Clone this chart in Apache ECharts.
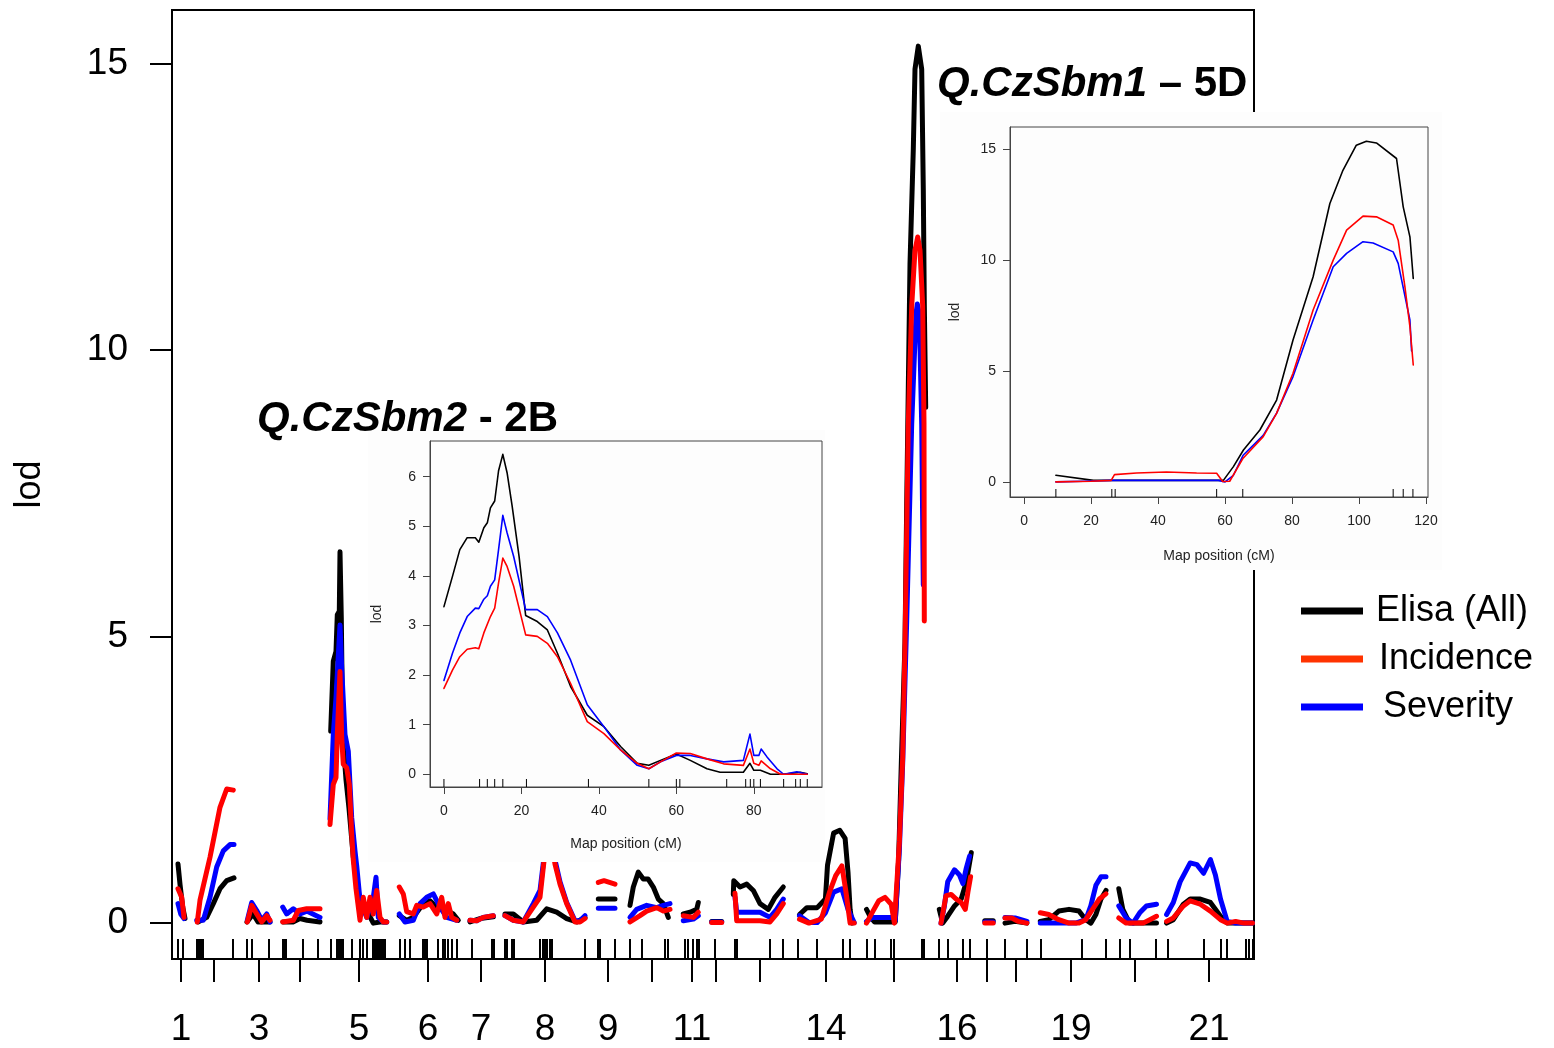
<!DOCTYPE html>
<html>
<head>
<meta charset="utf-8">
<title>lod scan</title>
<script src="https://cdn.jsdelivr.net/npm/echarts@6/dist/echarts.min.js"></script>
<style>
  html, body { margin: 0; padding: 0; background: #fff; }
  #chart { width: 1554px; height: 1048px; }
</style>
</head>
<body>
<div id="chart"></div>
<script>
// ---- main genome scan: x = cumulative map position, y = lod ----
var chromPos = [9, 42, 87, 128, 187, 256, 309, 373, 436, 480, 520, 544, 588, 654, 722, 785, 815, 844, 899, 963, 1037];
var chromNames = ['1','2','3','4','5','6','7','8','9','10','11','12','13','14','15','16','17','18','19','20','21'];
var chromShown = ['1','3','5','6','7','8','9','11','14','16','19','21'];
var lodTicks = [0, 5, 10, 15];

var markers = [6, 11, 25, 26, 28, 30, 31, 61, 75, 80, 97, 111, 113, 114, 131, 146, 159, 165, 166, 168, 170, 171,
  180, 188, 191, 195, 201, 203, 205, 206, 208, 210, 211, 213, 228, 233, 238, 251, 253, 255, 266, 271, 273, 276,
  280, 285, 300, 320, 322, 333, 335, 340, 342, 368, 371, 373, 375, 378, 380, 413, 426, 428, 443, 458, 470, 493,
  496, 513, 516, 521, 525, 527, 543, 563, 565, 598, 611, 626, 645, 671, 678, 695, 703, 719, 722, 750, 752, 767,
  776, 791, 798, 815, 833, 855, 869, 910, 934, 948, 958, 984, 996, 1032, 1049, 1055, 1074, 1077, 1081];

// one sub-array per chromosome
var elisaMain = [
  [[6,1.03],[8,0.68],[10.7,0.28],[13,0.08]],
  [[26,0.02],[34.7,0.1],[41.3,0.34],[48,0.6],[54.7,0.74],[62,0.79]],
  [[75,0.02],[81,0.16],[86,0.02],[98,0.02]],
  [[111,0.02],[121,0.02],[128,0.08],[135,0.05],[148,0.02]],
  [[158.7,3.35],[161.3,4.57],[164,4.74],[165.3,5.38],[167.3,5.44],[168,6.48],[169.3,5.32],[170.7,3.29],[174,2.5],[177,2.0],[181.3,1.15],[188,0.34],[194.7,0.22],[201.3,0.0],[208,0.02],[214.7,0.02]],
  [[227.3,0.13],[234.7,0.05],[241.3,0.1],[251.3,0.34],[258,0.39],[264.7,0.28],[274.7,0.22],[281.3,0.16],[286.3,0.05]],
  [[298,0.02],[308,0.08],[321.3,0.11]],
  [[333,0.16],[341.3,0.16],[351.3,0.02],[364.7,0.05],[374.7,0.25],[384.7,0.19],[394.7,0.08],[404.7,0.02],[413,0.1]],
  [[426.3,0.42],[443,0.42]],
  [[458,0.31],[461.3,0.63],[466.3,0.89],[471.3,0.77],[476,0.77],[481.3,0.63],[486.3,0.42],[491.3,0.34],[496.3,0.1]],
  [[511.3,0.16],[518,0.19],[524.7,0.24],[526.3,0.36]],
  [[539.7,0.03],[549.7,0.03]],
  [[561.3,0.5],[561.8,0.74],[568,0.63],[574.7,0.68],[581.3,0.57],[588,0.34],[596.3,0.24],[603,0.45],[611.3,0.63]],
  [[627.5,0.15],[634.9,0.27],[645.2,0.27],[653.4,0.42],[655.5,1.01],[661.6,1.57],[667.8,1.62],[673.1,1.48],[676,0.89],[678.1,0.24],[680.1,0.0]],
  [[694.5,0.24],[698.6,0.1],[702.7,0.02],[723.3,0.02],[726.6,1.1],[729.5,2.9],[733,4.9],[734.7,7.3],[738,11.5],[741.3,13.5],[743,14.9],[746.3,15.3],[749.7,14.9],[751.3,12.8],[752.3,10.8],[753.7,9.0]],
  [[767.3,0.24],[770.7,0.0],[775.7,0.12],[782.5,0.3],[789.2,0.42],[794.3,0.72],[799.3,1.23]],
  [[812.8,0.04],[821.2,0.04]],
  [[833,0.0],[843.1,0.03],[854.9,0.0]],
  [[868.3,0.03],[876.8,0.06],[886.8,0.21],[897,0.24],[907,0.21],[913.8,0.06],[918.8,0.0],[923.9,0.15],[929,0.42],[934,0.57]],
  [[946.8,0.6],[950.8,0.24],[957.6,0.0],[971,0.0],[984.5,0.0]],
  [[994.6,0.0],[1001.3,0.06],[1011.4,0.33],[1018.2,0.42],[1028.3,0.42],[1038.4,0.36],[1048.5,0.12],[1055.2,0.0],[1080.5,0.0]]
];

var severityMain = [
  [[6,0.34],[8.7,0.16],[12,0.08]],
  [[24.7,0.05],[31.3,0.05],[38,0.45],[44.7,0.98],[51.3,1.26],[58,1.37],[62,1.37]],
  [[75.3,0.05],[79.7,0.36],[84.7,0.22],[89.7,0.05],[94.7,0.16],[98,0.02]],
  [[110.7,0.28],[114.7,0.16],[121.3,0.25],[128,0.16],[134.7,0.21],[148,0.1]],
  [[158,1.82],[161.3,3.29],[164,3.93],[168,5.2],[169.7,4.45],[173,3.29],[176.3,3.0],[179.7,1.84],[183,1.26],[184.7,1.0],[188,0.4],[194.7,0.1],[201.3,0.45],[204,0.8],[206.3,0.1],[211.3,0.02],[214.7,0.02]],
  [[227.3,0.16],[233,0.02],[241.3,0.05],[248,0.34],[254.7,0.45],[261.3,0.51],[268,0.28],[274.7,0.1],[284.7,0.05]],
  [[298,0.05],[304.7,0.04],[311.3,0.1],[321.3,0.13]],
  [[333,0.13],[341.3,0.05],[351.3,0.02],[361.3,0.34],[368,0.57],[371.3,1.05],[374.7,1.6],[378,1.7],[383,1.1],[388,0.72],[394.7,0.36],[403,0.04],[408,0.04],[413,0.13]],
  [[426.3,0.26],[443,0.26]],
  [[458,0.1],[464.7,0.24],[474.7,0.31],[484.7,0.27],[491.3,0.31],[498,0.34]],
  [[511.3,0.04],[521.3,0.07],[526.3,0.13]],
  [[539.7,0.02],[549.7,0.02]],
  [[563,0.45],[564.7,0.19],[588,0.19],[598,0.1],[604.7,0.24],[611.3,0.42]],
  [[627.5,0.13],[637,0.01],[645.2,0.01],[653.4,0.18],[661.6,0.54],[669.9,0.6],[676,0.24],[682.2,0.01]],
  [[694.5,0.03],[700,0.1],[722,0.1],[723.3,0.05],[727.4,1.3],[730.7,2.8],[734.7,5.27],[739.7,8.71],[744,10.63],[745.3,10.8],[747.3,10.63],[749.7,8.71],[751.3,5.9]],
  [[769,0],[772.4,0.3],[775.7,0.72],[782.5,0.93],[787.5,0.84],[790.9,0.69],[794.3,0.96],[797.6,1.17]],
  [[812.8,0.02],[821.2,0.02]],
  [[833,0.1],[843.1,0.09],[854.9,0.03]],
  [[868.3,0.0],[883.5,0.0],[903.7,0],[913.8,0.06],[918.8,0.3],[923.9,0.66],[929,0.81],[934,0.81]],
  [[946.8,0.3],[954.2,0.09],[961,0.0],[967.7,0.18],[974.4,0.3],[984.5,0.33]],
  [[994.6,0.15],[1001.3,0.36],[1008.1,0.72],[1018.2,1.05],[1024.9,1.02],[1031.6,0.87],[1038.4,1.11],[1043.4,0.84],[1048.5,0.42],[1055.2,0.03],[1063.6,0.0],[1080.5,0.0]]
];

var incidenceMain = [
  [[6,0.6],[9.7,0.45],[12,0.1]],
  [[25.3,0.02],[28,0.4],[38,1.15],[48,2.02],[54.7,2.34],[61.3,2.32]],
  [[75.3,0.02],[79.7,0.31],[84.7,0.16],[89.7,0.02],[94.7,0.13],[98,0.05]],
  [[110.7,0.02],[121.3,0.05],[126.3,0.22],[134.7,0.25],[148,0.25]],
  [[158,1.72],[161.3,2.42],[164,2.54],[165.3,3.29],[168,4.39],[169.7,3.23],[171.3,2.77],[174.7,2.71],[177.3,2.42],[179.7,1.55],[181.3,1.1],[184,0.6],[188,0.05],[191.3,0.45],[194.7,0.1],[198,0.45],[201.3,0.16],[204.7,0.57],[208,0.1],[211.3,0.02],[214.7,0.02]],
  [[227.3,0.63],[231.3,0.51],[234.7,0.2],[241.3,0.16],[244.7,0.31],[251.3,0.28],[258,0.34],[264.7,0.16],[269.7,0.45],[273,0.1],[276.3,0.34],[279.7,0.1],[284.7,0.05]],
  [[298,0.05],[304.7,0.04],[311.3,0.1],[321.3,0.13]],
  [[333,0.13],[341.3,0.05],[351.3,0.02],[361.3,0.28],[368,0.45],[371.3,0.97],[374.7,1.5],[378,1.6],[383,1.03],[388,0.68],[394.7,0.34],[403,0.02],[408,0.02],[413,0.08]],
  [[426.3,0.71],[432,0.74],[443,0.68]],
  [[458,0.02],[468,0.13],[474.7,0.21],[484.7,0.27],[491.3,0.21],[498,0.24]],
  [[511.3,0.13],[521.3,0.1],[526.3,0.19]],
  [[539.7,0.01],[549.7,0.01]],
  [[563,0.52],[564.7,0.04],[588,0.04],[598,0.02],[604.7,0.16],[611.3,0.34]],
  [[627.5,0.07],[637,0.0],[649.3,0.07],[657.5,0.54],[663.7,0.83],[669.9,1.0],[674,0.54],[678.1,0.0],[682.2,0.0]],
  [[694.5,0.0],[700.7,0.2],[706.8,0.39],[713,0.45],[719.2,0.33],[722.4,0.0],[727.4,1.42],[730.7,2.89],[733,4.86],[736.3,8.71],[739.7,10.77],[743,11.74],[745.7,11.97],[748,11.74],[750.7,10.77],[752,8.71],[752.3,5.27]],
  [[769,0],[774,0.48],[779.1,0.5],[784.2,0.42],[789.2,0.36],[793.3,0.24],[795.9,0.54],[798.6,0.81]],
  [[812.8,0.0],[821.2,0.0]],
  [[833,0.09],[839.7,0.09],[846.5,0.03],[854.9,0.0]],
  [[868.3,0.18],[876.8,0.15],[886.8,0.06],[897,0.0],[907,0.0],[913.8,0.06],[920.5,0.24],[927.3,0.42],[934,0.51]],
  [[946.8,0.09],[954.2,0.0],[961,0.0],[971,0.0],[977.8,0.06],[984.5,0.12]],
  [[994.6,0.03],[1001.3,0.09],[1011.4,0.3],[1018.2,0.39],[1028.3,0.33],[1038.4,0.21],[1048.5,0.06],[1055.2,0.0],[1063.6,0.03],[1072,0],[1080.5,0]]
];

// ---- inset: chromosome 2B (map position cM) ----
var cm2BTicks = [0, 20, 40, 60, 80];
var lod2BTicks = [0, 1, 2, 3, 4, 5, 6];
var markers2B = [0, 9.2, 11.2, 13.1, 15.2, 21.3, 37.3, 52.9, 60.0, 60.9, 73.0, 77.9, 79.1, 80.0, 81.7, 87.7, 90.8, 92.0, 93.8];
var elisa2B = [[0,3.38],[2.2,3.99],[4.1,4.53],[6,4.77],[8.1,4.77],[9,4.68],[10.3,4.97],[11.2,5.07],[12,5.37],[13.1,5.51],[14.1,6.12],[15.2,6.45],[16.3,6.08],[17.6,5.41],[19.4,4.39],[21.1,3.2],[24.1,3.08],[26.7,2.91],[29.3,2.44],[32.7,1.77],[37,1.19],[41.3,0.96],[45.6,0.56],[49.9,0.22],[52.9,0.18],[55.9,0.28],[60,0.41],[63.6,0.28],[67.9,0.11],[71.3,0.04],[77.3,0.04],[79,0.22],[80,0.08],[81.7,0.08],[84.3,0.0],[87.7,0.0],[92,0.04],[93.8,0.01]];
var severity2B = [[0,1.89],[2.2,2.44],[4.1,2.85],[6,3.18],[8.1,3.35],[9,3.34],[10.3,3.53],[11.2,3.6],[12,3.79],[13.1,3.92],[14.1,4.53],[15.2,5.22],[16.3,4.87],[18,4.39],[21.1,3.32],[24.1,3.32],[26.7,3.18],[29.3,2.85],[32.7,2.3],[37,1.4],[41.3,0.96],[45.6,0.49],[49.9,0.18],[52.9,0.11],[55.9,0.25],[60,0.38],[63.6,0.38],[67.9,0.31],[72.2,0.25],[77.3,0.28],[79,0.81],[80,0.38],[81.3,0.38],[81.9,0.51],[83.4,0.35],[86,0.11],[87.7,0.0],[91.1,0.05],[93.8,0.0]];
var incidence2B = [[0,1.73],[2.2,2.1],[4.1,2.37],[6,2.52],[8.1,2.55],[9,2.53],[10.3,2.85],[12,3.18],[13.1,3.35],[14.1,3.86],[15.2,4.36],[16.3,4.19],[18,3.79],[21.1,2.81],[24.1,2.78],[26.7,2.64],[29.3,2.37],[32.7,1.83],[37,1.06],[41.3,0.82],[45.6,0.49],[49.9,0.22],[52.9,0.11],[55.9,0.25],[60,0.43],[63.6,0.42],[67.9,0.31],[72.2,0.21],[77.3,0.18],[79,0.51],[80,0.22],[81.3,0.18],[81.9,0.27],[84.3,0.11],[86.9,0.0],[93.8,0.0]];

// ---- inset: chromosome 5D ----
var cm5DTicks = [0, 20, 40, 60, 80, 100, 120];
var lod5DTicks = [0, 5, 10, 15];
var markers5D = [9.5, 26.2, 27.2, 57.5, 65.3, 110.2, 113.2, 116.1];
var elisa5D = [[9.5,0.3],[20.7,0.07],[40,0.07],[59.5,0.07],[62.5,0.69],[65.5,1.44],[70.4,2.34],[75.4,3.69],[80.3,6.4],[86.3,9.25],[91.3,12.55],[95.2,14.05],[99.2,15.18],[102.2,15.36],[105.2,15.28],[111.2,14.58],[113.2,12.4],[115.2,11.05],[116.2,9.17]];
var severity5D = [[9.5,0.0],[17.7,0.03],[26,0.07],[58,0.07],[60,0.0],[62.5,0.3],[65.4,1.2],[71.4,2.1],[75.4,3.1],[80.3,4.75],[86.3,7.3],[92.3,9.7],[96.3,10.3],[101.2,10.83],[104.2,10.77],[110.2,10.37],[111.7,9.85],[115.2,7.3],[115.7,5.9]];
var incidence5D = [[9.5,0.0],[20,0.03],[26,0.07],[27,0.33],[33.6,0.4],[42.5,0.45],[51.5,0.4],[57.5,0.39],[59.3,0.02],[61.4,0.03],[65.4,1.07],[71.4,2.04],[75.4,3.09],[80.3,4.9],[86.3,7.75],[92.3,10.0],[96.3,11.35],[101.2,11.98],[105.2,11.95],[110.2,11.58],[111.7,10.9],[113.7,8.8],[115.2,7.0],[116.2,5.27]];

var BLACK = '#000000', RED = '#ff0000', BLUE = '#0000ff';
var FONT = '"Liberation Sans", Arial, sans-serif';

function joinChromosomes(segs) {
  var out = [];
  segs.forEach(function (s, i) {
    if (i > 0) out.push([s[0][0] - 0.5, '-']);
    out = out.concat(s);
  });
  return out;
}

// marker rug: short ticks standing on the bottom of the plot frame
function rug(name, gridIdx, pts, len, width) {
  return {
    name: name, type: 'custom', xAxisIndex: gridIdx, yAxisIndex: gridIdx, z: gridIdx ? 6 : 2,
    clip: false, silent: true,
    data: pts.map(function (p) { return [p, 0]; }),
    encode: { x: 0, y: 1 },
    renderItem: function (params, api) {
      var cs = params.coordSys;
      var x = api.coord([api.value(0), 0])[0];
      var yb = cs.y + cs.height;
      return {
        type: 'line',
        shape: { x1: x, y1: yb, x2: x, y2: yb - len },
        style: { stroke: '#000', lineWidth: width }
      };
    }
  };
}

function lodLine(name, gridIdx, data, color, width, z) {
  return {
    name: name, type: 'line', xAxisIndex: gridIdx, yAxisIndex: gridIdx,
    data: data, symbol: 'none', smooth: false, z: z, silent: true,
    connectNulls: false,
    itemStyle: { color: color },
    lineStyle: { color: color, width: width, cap: 'round', join: 'round' }
  };
}

function insetAxisX(idx, min, max, ticks, gap) {
  return {
    type: 'value', gridIndex: idx, min: min, max: max, z: 5,
    axisLine: { show: true, onZero: false, lineStyle: { color: '#444', width: 1 } },
    axisTick: { show: true, customValues: ticks, length: 7, lineStyle: { color: '#444', width: 1 } },
    axisLabel: { customValues: ticks, fontSize: 14, color: '#222', margin: 17, fontFamily: FONT },
    splitLine: { show: false },
    name: 'Map position (cM)', nameLocation: 'middle', nameGap: gap,
    nameTextStyle: { fontSize: 14, color: '#222', fontFamily: FONT }
  };
}

function insetAxisY(idx, min, max, ticks, gap) {
  return {
    type: 'value', gridIndex: idx, min: min, max: max, z: 5,
    axisLine: { show: true, onZero: false, lineStyle: { color: '#444', width: 1 } },
    axisTick: { show: true, customValues: ticks, length: 7, lineStyle: { color: '#444', width: 1 } },
    axisLabel: { customValues: ticks, fontSize: 14, color: '#222', margin: 14, fontFamily: FONT },
    splitLine: { show: false },
    name: 'lod', nameLocation: 'middle', nameGap: gap,
    nameTextStyle: { fontSize: 14, color: '#222', fontFamily: FONT }
  };
}

var chart = echarts.init(document.getElementById('chart'));
var option = {
  animation: false,
  backgroundColor: '#ffffff',
  textStyle: { fontFamily: FONT },
  title: [
    {
      text: '{a|Q.CzSbm2}{b| - 2B}', left: 252, top: 393, z: 8,
      textStyle: { rich: {
        a: { fontSize: 42, fontWeight: 'bold', fontStyle: 'italic', color: '#000', fontFamily: FONT },
        b: { fontSize: 42, fontWeight: 'bold', color: '#000', fontFamily: FONT }
      } }
    },
    {
      text: '{a|Q.CzSbm1}{b| \u2013 5D}', left: 932, top: 58, z: 8,
      textStyle: { rich: {
        a: { fontSize: 42, fontWeight: 'bold', fontStyle: 'italic', color: '#000', fontFamily: FONT },
        b: { fontSize: 42, fontWeight: 'bold', color: '#000', fontFamily: FONT }
      } }
    }
  ],
  legend: {
    left: 1296, top: 586, orient: 'vertical', icon: 'rect',
    itemWidth: 62, itemHeight: 7, itemGap: 8, selectedMode: false,
    textStyle: { fontSize: 36, color: '#000', lineHeight: 40, padding: [0, 0, 0, 8], fontFamily: FONT },
    data: [
      { name: 'Elisa (All)', itemStyle: { color: BLACK } },
      { name: 'Incidence', itemStyle: { color: '#ff3300' }, textStyle: { padding: [0, 0, 0, 11] } },
      { name: 'Severity', itemStyle: { color: BLUE }, textStyle: { padding: [0, 0, 0, 15] } }
    ]
  },
  graphic: [
    { type: 'rect', z: 3, silent: true, shape: { x: 368, y: 430, width: 457, height: 432 }, style: { fill: '#fdfdfd' } },
    { type: 'rect', z: 3, silent: true, shape: { x: 940, y: 112, width: 502, height: 458 }, style: { fill: '#fdfdfd' } }
  ],
  grid: [
    { left: 172, top: 10, width: 1082, height: 952, show: true, borderColor: '#000', borderWidth: 2, z: 0 },
    { left: 430, top: 441, width: 392, height: 346, show: true, borderColor: '#444', borderWidth: 1, z: 4 },
    { left: 1010, top: 127, width: 418, height: 370, show: true, borderColor: '#444', borderWidth: 1, z: 4 }
  ],
  xAxis: [
    {
      type: 'value', gridIndex: 0, min: 0, max: 1082,
      axisLine: { show: true, onZero: false, lineStyle: { color: '#000', width: 2 } },
      axisTick: { show: true, customValues: chromPos, length: 23, lineStyle: { color: '#000', width: 2 } },
      axisLabel: {
        customValues: chromPos.filter(function (p, i) { return chromShown.indexOf(chromNames[i]) >= 0; }),
        formatter: function (v) { return chromNames[chromPos.indexOf(v)]; },
        fontSize: 37, color: '#000', margin: 52, fontFamily: FONT
      },
      splitLine: { show: false }
    },
    insetAxisX(1, -3.6, 97.6, cm2BTicks, 50),
    insetAxisX(2, -4.2, 120.6, cm5DTicks, 52)
  ],
  yAxis: [
    {
      type: 'value', gridIndex: 0, min: -0.626, max: 15.93,
      axisLine: { show: true, onZero: false, lineStyle: { color: '#000', width: 2 } },
      axisTick: { show: true, customValues: lodTicks, length: 22, lineStyle: { color: '#000', width: 2 } },
      axisLabel: { customValues: lodTicks, fontSize: 37, color: '#000', margin: 44, fontFamily: FONT },
      splitLine: { show: false },
      name: 'lod', nameLocation: 'middle', nameGap: 124,
      nameTextStyle: { fontSize: 36, color: '#000', fontFamily: FONT }
    },
    insetAxisY(1, -0.257, 6.72, lod2BTicks, 46),
    insetAxisY(2, -0.68, 16.0, lod5DTicks, 48)
  ],
  series: [
    rug('markers', 0, markers, 20, 2),
    lodLine('Elisa (All)', 0, joinChromosomes(elisaMain), BLACK, 5, 2),
    lodLine('Severity', 0, joinChromosomes(severityMain), BLUE, 5, 2),
    lodLine('Incidence', 0, joinChromosomes(incidenceMain), RED, 5, 2),
    rug('markers2B', 1, markers2B, 8, 1),
    lodLine('Elisa (All)', 1, elisa2B, BLACK, 1.6, 6),
    lodLine('Severity', 1, severity2B, BLUE, 1.6, 6),
    lodLine('Incidence', 1, incidence2B, RED, 1.6, 6),
    rug('markers5D', 2, markers5D, 8, 1),
    lodLine('Elisa (All)', 2, elisa5D, BLACK, 1.6, 6),
    lodLine('Severity', 2, severity5D, BLUE, 1.6, 6),
    lodLine('Incidence', 2, incidence5D, RED, 1.6, 6)
  ]
};
chart.setOption(option);
</script>
</body>
</html>
